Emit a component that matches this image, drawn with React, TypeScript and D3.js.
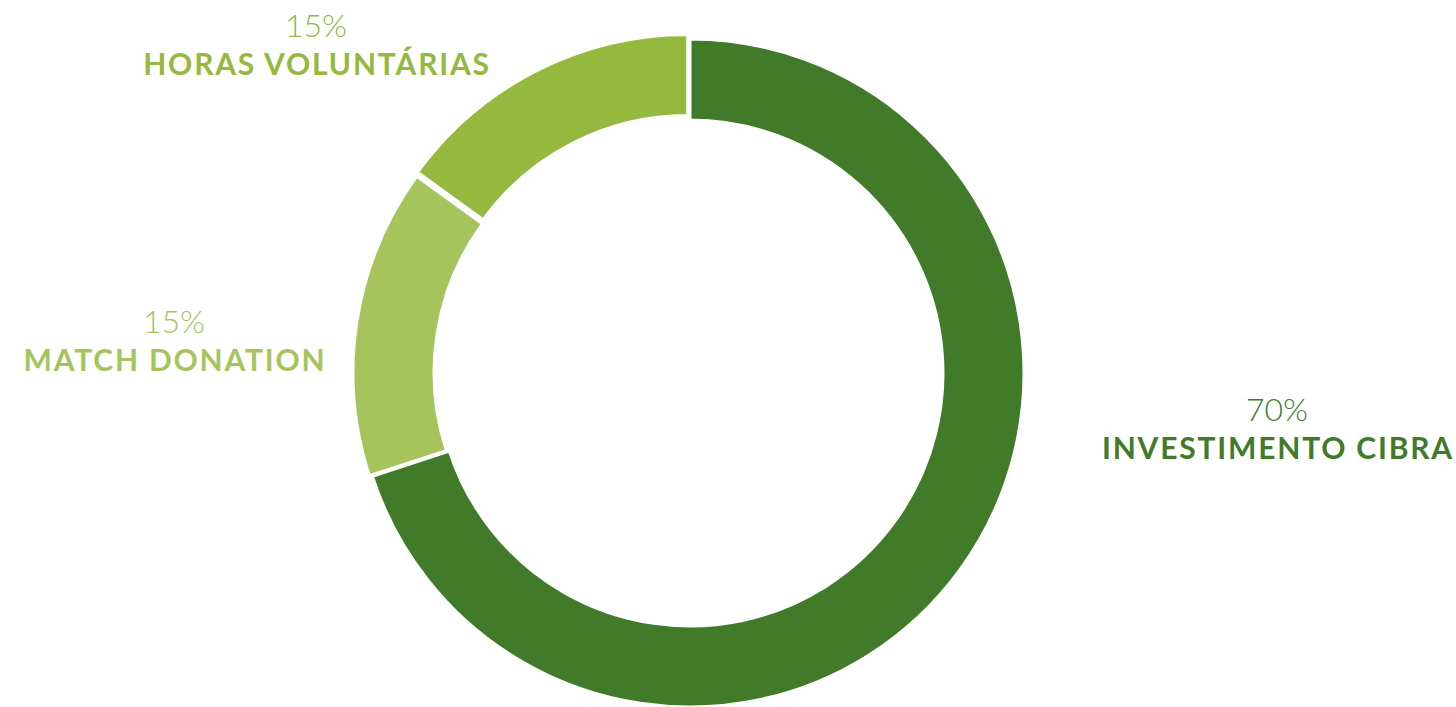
import React, { useEffect, useRef } from 'react';
import * as d3 from 'd3';

const categories = ['INVESTIMENTO CIBRA', 'MATCH DONATION', 'HORAS VOLUNTÁRIAS'];
const values = [70, 15, 15];
const colors = ['#417a29', '#a5c55c', '#95b83e'];
// label anchor (centre x, baseline of the % line) per category
const labelPos: [number, number][] = [[1277, 421], [174, 333], [316, 37]];
const explode = [0, 3, 5];

const W = 1456;
const H = 707;

const App = () => {
  const svgRef = useRef<SVGSVGElement | null>(null);

  useEffect(() => {
    const svg = d3.select(svgRef.current);
    svg.selectAll('*').remove();

    const cx = 690;
    const cy = 373;
    const outer = 334;
    const inner = 253;

    const data = categories.map((c, i) => ({ name: c, value: values[i], color: colors[i], ex: explode[i] }));
    const pie = d3.pie<any>().value(d => d.value).sort(null);
    const arcs = pie(data);
    const arc = d3.arc<any>().innerRadius(inner).outerRadius(outer);

    const g = svg.append('g').attr('transform', `translate(${cx},${cy})`);
    g.selectAll('path')
      .data(arcs)
      .enter()
      .append('path')
      .attr('d', arc)
      .attr('fill', d => d.data.color)
      .attr('stroke', '#fff')
      .attr('stroke-width', 3)
      .attr('transform', d => {
        const a = (d.startAngle + d.endAngle) / 2;
        return `translate(${Math.sin(a) * d.data.ex},${-Math.cos(a) * d.data.ex})`;
      });

    data.forEach((d, i) => {
      const [x, y] = labelPos[i];
      const t = svg.append('g').attr('transform', `translate(${x},${y})`);
      t.append('text')
        .attr('text-anchor', 'middle')
        .attr('fill', d.color)
        .style('font-family', 'Lato, sans-serif')
        .style('font-weight', 300)
        .style('font-size', '32px')
        .text(`${d.value}%`);
      t.append('text')
        .attr('x', 1)
        .attr('y', 38)
        .attr('text-anchor', 'middle')
        .attr('fill', d.color)
        .style('font-family', 'Lato, sans-serif')
        .style('font-weight', 700)
        .style('font-size', '30px')
        .style('letter-spacing', '1.8px')
        .text(d.name);
    });
  }, []);

  return (
    <svg
      ref={svgRef}
      width={W}
      height={H}
      style={{ position: 'absolute', left: 0, top: 0, background: '#fff' }}
    />
  );
};

export default App;
